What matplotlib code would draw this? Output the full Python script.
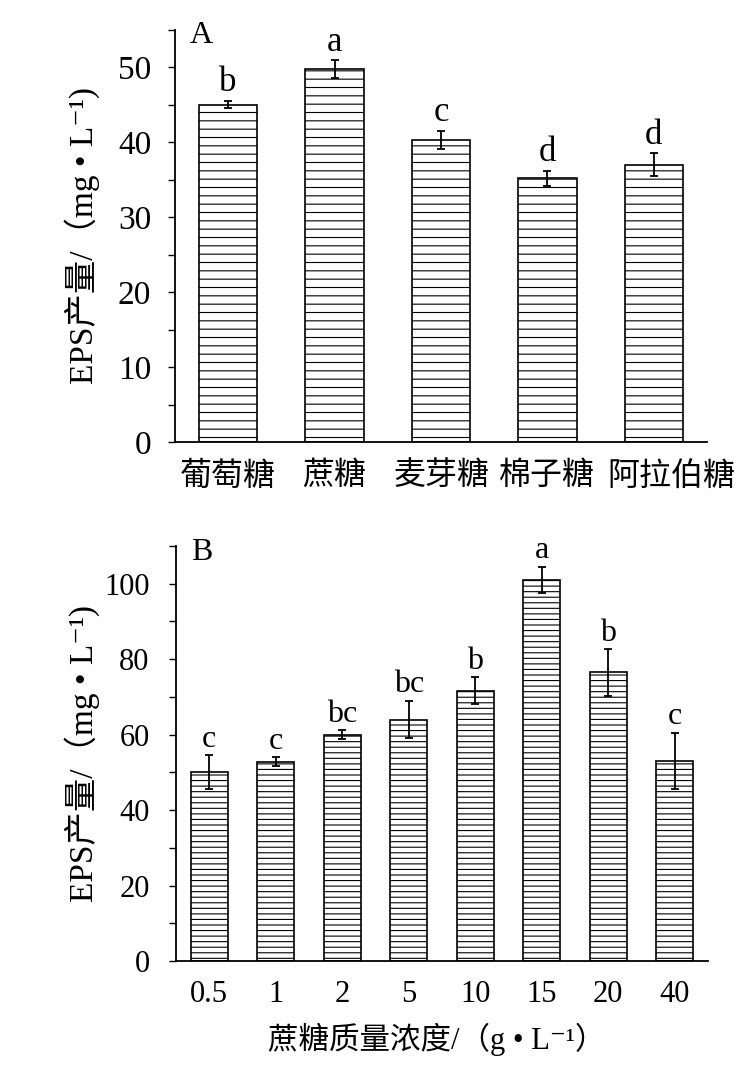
import matplotlib
matplotlib.use("Agg")
import matplotlib.pyplot as plt
import matplotlib.transforms as mtransforms
import numpy as np

plt.rcParams["font.family"] = ["Liberation Serif", "Noto Sans CJK SC", "DejaVu Sans"]
plt.rcParams["hatch.linewidth"] = 0.8
plt.rcParams["hatch.color"] = "black"

# Panel A: carbon source
sugars = ["葡萄糖", "蔗糖", "麦芽糖", "棉子糖", "阿拉伯糖"]
eps_a = [45.0, 49.7, 40.3, 35.2, 37.0]
err_a = [0.5, 1.2, 1.2, 1.0, 1.5]
sig_a = ["b", "a", "c", "d", "d"]

# Panel B: sucrose concentration
conc = ["0.5", "1", "2", "5", "10", "15", "20", "40"]
eps_b = [50.0, 52.8, 60.0, 64.0, 71.7, 101.0, 76.5, 53.0]
err_b = [4.5, 1.2, 1.2, 5.0, 3.6, 3.5, 6.2, 7.5]
sig_b = ["c", "c", "bc", "bc", "b", "a", "b", "c"]

ylabel = "EPS产量/（mg • L⁻¹)"

fig = plt.figure(figsize=(7.38, 10.77), dpi=100)
ax_a = fig.add_axes([0.2371, 0.5896, 0.7209, 0.3830])
ax_b = fig.add_axes([0.2385, 0.1077, 0.7209, 0.3853])


def draw_panel(ax, labels, values, errors, sig, hatch, ylim, major, minor,
               tag, fs_tick, fs_sig, ypad):
    x = np.arange(len(labels))
    ax.bar(x, values, width=0.55, color="white", edgecolor="black",
           linewidth=1.2, hatch=hatch, zorder=2)
    ax.errorbar(x, values, yerr=errors, fmt="none", ecolor="black",
                elinewidth=1.3, capsize=3, capthick=1.3, zorder=3)
    for xi, v, e, s in zip(x, values, errors, sig):
        ax.annotate(s, (xi, v + e), xytext=(0, 1), textcoords="offset points",
                    ha="center", va="bottom", fontsize=fs_sig)

    ax.set_xlim(-0.5, len(labels) - 0.5)
    ax.set_ylim(*ylim)
    ax.set_xticks(x)
    ax.set_xticklabels(labels)
    ax.set_yticks(np.arange(0, ylim[1] + 0.1, major))
    ax.set_yticks(np.arange(0, ylim[1] + 0.1, minor), minor=True)
    ax.tick_params(axis="x", length=0, pad=14, labelsize=fs_tick)
    ax.tick_params(axis="y", which="both", direction="out", length=5,
                   width=1.0, pad=ypad, labelsize=fs_tick)
    for side in ["top", "right"]:
        ax.spines[side].set_visible(False)
    for side in ["left", "bottom"]:
        ax.spines[side].set_linewidth(1.3)
    ax.text(0.028, 1.02, tag, transform=ax.transAxes, ha="left", va="top",
            fontsize=23)


draw_panel(ax_a, sugars, eps_a, err_a, sig_a, "--", (0, 55), 10, 5, "A",
           24, 25, 12)
draw_panel(ax_b, conc, eps_b, err_b, sig_b, "---", (0, 110), 20, 10, "B",
           22, 23, 14)

for lab in ax_a.get_xticklabels():
    lab.set_fontsize(23)
# the last label in the original sits a little right of its bar
last = ax_a.get_xticklabels()[-1]
last.set_transform(last.get_transform()
                   + mtransforms.ScaledTranslation(0.18, 0, fig.dpi_scale_trans))

ax_a.set_ylabel(ylabel, fontsize=24)
ax_a.yaxis.set_label_coords(-0.141, 0.5)
ax_b.set_ylabel(ylabel, fontsize=24)
ax_b.yaxis.set_label_coords(-0.143, 0.5)
ax_b.set_xlabel("蔗糖质量浓度/（g • L⁻¹）", fontsize=22)
ax_b.xaxis.set_label_coords(0.49, -0.15)

fig.savefig("out.png", dpi=100)
